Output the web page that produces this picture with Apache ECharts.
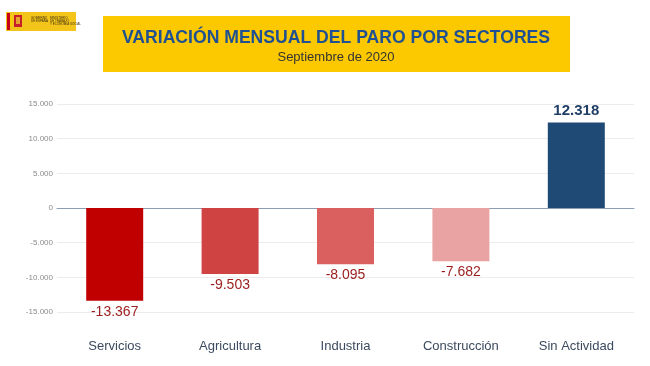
<!DOCTYPE html>
<html><head><meta charset="utf-8">
<script src="https://cdn.jsdelivr.net/npm/echarts@6/dist/echarts.min.js"></script>
<style>html,body{margin:0;padding:0;background:#fff}#c{width:650px;height:366px}</style>
</head><body><div id="c"></div>
<script>
const categories = ['Servicios','Agricultura','Industria','Construcción','Sin Actividad'];
const values = [-13367, -9503, -8095, -7682, 12318];
const yTicks = [-15000, -10000, -5000, 0, 5000, 10000, 15000];
const titleText = 'VARIACIÓN MENSUAL DEL PARO POR SECTORES';
const subtitleText = 'Septiembre de 2020';

const barColors = ['#c00000','#d04343','#d9605f','#e9a3a3','#1f4a76'];
function fmt(v){
  const s = Math.abs(v).toString().replace(/\B(?=(\d{3})+(?!\d))/g,'.');
  return (v<0?'-':'') + s;
}
const chart = echarts.init(document.getElementById('c'));
chart.setOption({
  animation:false,
  grid:{left:57,right:16,top:104,bottom:54},
  graphic:[
    {type:'rect',shape:{x:103,y:16,width:467,height:56},style:{fill:'#fcc800'}},
    {type:'text',x:336,y:38,style:{text:titleText,fill:'#1f5192',font:'bold 17.6px "Liberation Sans", Arial, sans-serif',align:'center',verticalAlign:'middle'}},
    {type:'text',x:336,y:57,style:{text:subtitleText,fill:'#333333',font:'13px "Liberation Sans", Arial, sans-serif',align:'center',verticalAlign:'middle'}},
    {type:'rect',shape:{x:6,y:12,width:70,height:19},style:{fill:'#f3c51a'}},
    {type:'rect',shape:{x:7,y:13,width:3,height:17},style:{fill:'#c4001a'}},
    {type:'rect',shape:{x:10,y:17,width:2,height:9},style:{fill:'#f7d000'}},
    {type:'rect',shape:{x:14,y:15,width:8,height:12},style:{fill:'#c8202a'}},
    {type:'rect',shape:{x:16,y:17,width:4,height:7},style:{fill:'#e8a030'}},
    {type:'text',x:31,y:17,style:{text:'GOBIERNO\nDE ESPAÑA',fill:'#3a2a10',font:'3px sans-serif',lineHeight:3}},
    {type:'text',x:50,y:17,style:{text:'MINISTERIO\nDE TRABAJO\nY ECONOMÍA SOCIAL',fill:'#3a2a10',font:'3px sans-serif',lineHeight:3}}
  ],
  xAxis:[{
    type:'category',data:categories,
    axisLine:{onZero:true,lineStyle:{color:'#8d9db3',width:1}},
    axisTick:{show:false},axisLabel:{show:false}
  },{
    type:'category',data:categories,position:'bottom',
    axisLine:{show:false},axisTick:{show:false},
    axisLabel:{margin:28,color:'#3b4a5e',fontSize:13,fontFamily:'"Liberation Sans", Arial, sans-serif'}
  }],
  yAxis:{
    type:'value',min:-15000,max:15000,interval:5000,
    axisLine:{show:false},axisTick:{show:false},
    splitLine:{lineStyle:{color:'#ececec'}},
    axisLabel:{color:'#8a8a8a',fontSize:8,margin:4,formatter:v=>fmt(v)}
  },
  series:[{
    type:'bar',barWidth:57,
    data:values.map((v,i)=>({value:v,itemStyle:{color:barColors[i]},
      label:v>0?{color:'#1f3f66',fontWeight:'bold',fontSize:15}:{color:'#9b1c1c',fontSize:14}})),
    label:{show:true,position:'outside',distance:4,fontFamily:'"Liberation Sans", Arial, sans-serif',formatter:p=>fmt(p.value)}
  }]
});
</script></body></html>
